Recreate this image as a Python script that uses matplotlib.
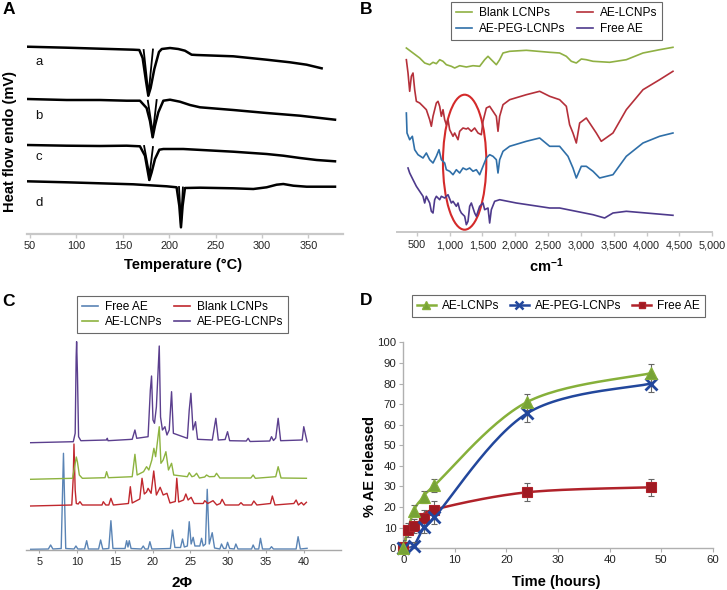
import numpy as np
import matplotlib
matplotlib.use("Agg")
import matplotlib.pyplot as plt
from matplotlib.patches import Ellipse
from matplotlib.lines import Line2D

plt.rcParams['font.family'] = ['Liberation Sans', 'DejaVu Sans']
plt.rcParams['mathtext.fontset'] = 'custom'
plt.rcParams['mathtext.rm'] = 'Liberation Sans'
plt.rcParams['mathtext.bf'] = 'Liberation Sans:bold'

# ---------------- Panel A: DSC ----------------
dsc_a_T = [46.4, 89.5, 125.4, 161.3, 167.8, 171.4, 175.0, 177.5, 180.0, 184.0, 189.0, 192.0, 200.9, 209.8, 217.0, 224.2, 229.6, 269.1, 305.0, 330.2, 348.1, 364.3]
dsc_a_hf = [18.73, 18.63, 18.53, 18.43, 18.4, 17.6, 15.3, 13.83, 14.6, 16.5, 18.2, 18.5, 18.6, 18.5, 18.33, 17.93, 17.9, 17.77, 17.43, 17.17, 16.93, 16.57]
dsc_a_inner_T = [172.5, 176.5, 177.5, 178.8, 182.5]
dsc_a_inner_hf = [18.4, 15.0, 13.83, 15.0, 18.45]
dsc_b_T = [46.4, 89.5, 125.4, 154.2, 168.5, 175.7, 179.3, 182.2, 184.7, 188.3, 193.7, 200.9, 211.6, 222.4, 233.2, 269.1, 305.0, 341.0, 378.7]
dsc_b_hf = [13.5, 13.4, 13.4, 13.33, 13.33, 12.6, 11.3, 9.67, 10.83, 12.17, 13.33, 13.43, 13.23, 12.9, 12.67, 12.4, 12.1, 11.83, 11.43]
dsc_b_inner_T = [177.0, 181.2, 182.2, 183.3, 186.5]
dsc_b_inner_hf = [13.33, 10.8, 9.67, 10.8, 13.4]
dsc_c_T = [46.4, 89.5, 125.4, 154.2, 168.5, 173.9, 178.6, 181.1, 184.7, 189.4, 193.7, 215.2, 269.1, 305.0, 323.0, 341.0, 358.9, 378.7]
dsc_c_hf = [8.9, 8.83, 8.8, 8.83, 8.77, 7.83, 5.4, 6.17, 7.5, 8.43, 8.5, 8.5, 8.23, 8.0, 7.83, 7.6, 7.4, 7.27]
dsc_c_inner_T = [173.0, 177.6, 178.6, 179.6, 182.5]
dsc_c_inner_hf = [8.8, 6.5, 5.4, 6.5, 8.7]
dsc_d_T = [46.4, 89.5, 125.4, 161.3, 197.3, 208.0, 210.9, 212.7, 214.5, 217.0, 233.2, 269.1, 290.7, 305.0, 315.8, 323.0, 333.8, 348.1, 378.7]
dsc_d_hf = [5.27, 5.17, 5.07, 4.97, 4.77, 4.67, 2.83, 0.67, 2.83, 4.6, 4.63, 4.57, 4.5, 4.67, 4.93, 5.0, 4.83, 4.73, 4.73]
dsc_d_inner_T = [210.6, 212.2, 212.7, 213.2, 214.8]
dsc_d_inner_hf = [4.7, 2.0, 0.67, 2.0, 4.65]
dsc_labels = ['a', 'b', 'c', 'd']
dsc_label_hf = [17.17, 11.83, 7.67, 3.1]
dsc_ticks = [50, 100, 150, 200, 250, 300, 350]

# ---------------- Panel B: FTIR ----------------
ftir_blank_wn = [342.8, 444.2, 545.7, 621.8, 697.9, 748.6, 799.3, 850.1, 900.8, 951.5, 1027.6, 1078.3, 1154.4, 1255.9, 1357.4, 1458.8, 1534.9, 1585.6, 1636.4, 1712.5, 1763.2, 1813.9, 1915.4, 2169.0, 2524.2, 2676, 2778, 2854, 2930, 3006, 3082, 3184, 3437, 3691, 3945, 4198, 4401]
ftir_blank_t = [184, 179, 174, 169, 167.3, 169.7, 168.3, 172.3, 170.7, 167.3, 165.7, 164, 166.3, 165, 166.3, 165.7, 172.3, 175.7, 172.3, 167.3, 172.3, 179, 180.7, 181.7, 179.7, 179, 175.7, 170.7, 169, 173, 172.3, 170.7, 169.7, 172.3, 179, 182.3, 184.7]
ftir_ael_wn = [342.8, 368.1, 393.5, 418.9, 444.2, 469.6, 495.0, 545.7, 596.4, 647.1, 697.9, 723.2, 748.6, 799.3, 824.7, 850.1, 875.4, 900.8, 926.2, 951.5, 976.9, 1002.3, 1053.0, 1078.3, 1129.1, 1154.4, 1205.2, 1255.9, 1281.3, 1332.0, 1382.7, 1433.5, 1484.2, 1509.6, 1560.3, 1611.0, 1661.7, 1712.5, 1737.8, 1763.2, 1813.9, 1915.4, 2169.0, 2372.0, 2524.2, 2676, 2778, 2828, 2879, 2930, 2981, 3082, 3234, 3310, 3488, 3691, 3945, 4198, 4401]
ftir_ael_t = [172.3, 159, 140.7, 155.7, 159, 142.3, 130.7, 129, 125.7, 122.3, 112.3, 105.7, 115.7, 129, 130.7, 125.7, 115.7, 122.3, 112.3, 107.3, 112.3, 102.3, 95.7, 99, 92.3, 100.7, 104, 103, 104, 100.7, 104, 99, 97.3, 110.7, 124, 125.7, 120.7, 115.7, 100.7, 115.7, 127.3, 132.3, 137.3, 140.7, 135.7, 132.3, 125.7, 107.3, 99, 89, 109, 114, 99, 90.7, 99, 122.3, 142.3, 152.3, 160.7]
ftir_peg_wn = [342.8, 352.9, 393.5, 434.1, 469.6, 520.3, 596.4, 647.1, 697.9, 748.6, 799.3, 839.9, 875.4, 926.2, 951.5, 1002.3, 1053.0, 1103.7, 1154.4, 1205.2, 1255.9, 1306.6, 1357.4, 1408.1, 1458.8, 1509.6, 1560.3, 1611.0, 1661.7, 1712.5, 1737.8, 1763.2, 1813.9, 1915.4, 2169.0, 2372.0, 2524.2, 2676, 2803, 2879, 2930, 3006, 3082, 3184, 3285, 3488, 3691, 3945, 4198, 4401]
ftir_peg_t = [119, 99, 92.3, 95.7, 82.3, 77.3, 74, 79, 72.3, 69, 75.7, 82.3, 72.3, 69, 62.3, 60.7, 57.3, 62.3, 59, 64, 62.3, 64, 60.7, 62.3, 57.3, 65.7, 74, 77.3, 75.7, 72.3, 59, 72.3, 80.7, 85.7, 90.7, 94, 85.7, 85.7, 75.7, 64, 54, 65.7, 65.7, 60.7, 54, 57.3, 75.7, 89, 95.7, 99]
ftir_free_wn = [368.1, 393.5, 444.2, 495.0, 545.7, 596.4, 621.8, 647.1, 697.9, 723.2, 748.6, 773.9, 799.3, 850.1, 875.4, 926.2, 976.9, 1027.6, 1053.0, 1103.7, 1129.1, 1154.4, 1179.8, 1230.5, 1255.9, 1281.3, 1306.6, 1332.0, 1382.7, 1408.1, 1458.8, 1509.6, 1534.9, 1585.6, 1611.0, 1636.4, 1687.1, 1763.2, 2016.9, 2524.2, 2676, 3184, 3361, 3488, 3691, 4401]
ftir_free_t = [64, 59, 52.3, 45.7, 40.7, 35.7, 29, 35.7, 29, 20.7, 19, 32.3, 35.7, 32.3, 35.7, 34, 37.3, 29, 30.7, 25.7, 29, 22.3, 19, 15.7, 7.3, 10.7, 25.7, 29, 19, 15.7, 25.7, 29, 22.3, 24, 9, 22.3, 30.7, 32.3, 29, 24, 24, 17.3, 14, 19, 20.7, 16.7]
ftir_ticks = [500, 1000, 1500, 2000, 2500, 3000, 3500, 4000, 4500, 5000]
ellipse_center = (1230, 69.8)
ellipse_size = (660, 135)

# ---------------- Panel C: XRD ----------------
xrd_free_x = [3.86, 6.2, 6.5, 6.8, 7.9, 8.2, 8.5, 9.6, 9.85, 10.1, 11.0, 11.27, 11.5, 12.85, 13.12, 13.4, 14.2, 14.48, 14.75, 16.35, 16.56, 16.74, 16.91, 17.15, 18.5, 18.76, 19.0, 19.4, 19.64, 19.9, 22.35, 22.64, 22.95, 23.7, 23.96, 24.2, 24.6, 24.85, 25.1, 25.37, 25.6, 26.25, 26.48, 26.7, 27.0, 27.23, 27.5, 27.89, 28.2, 28.9, 29.12, 29.4, 29.7, 29.92, 30.2, 30.8, 31.02, 31.3, 33.1, 33.31, 33.55, 34.05, 34.28, 34.55, 35.5, 35.74, 36.0, 39.0, 39.26, 39.55, 40.45]
xrd_free_y = [0.7, 1.0, 5.0, 1.0, 1.5, 96.7, 1.5, 1.0, 4.0, 1.0, 1.0, 9.3, 1.0, 1.0, 10.0, 1.0, 1.5, 29.3, 1.5, 1.5, 9.3, 3.0, 9.3, 1.5, 1.0, 4.0, 1.0, 1.0, 8.3, 1.0, 1.5, 20.0, 2.5, 2.5, 11.0, 3.0, 4.0, 28.3, 6.0, 12.7, 4.0, 4.0, 11.7, 4.0, 6.0, 60.7, 6.0, 17.3, 2.0, 1.0, 6.0, 1.5, 1.5, 7.7, 1.5, 1.0, 6.0, 1.0, 1.0, 5.0, 1.0, 1.0, 11.7, 1.0, 1.0, 3.3, 1.0, 1.0, 13.3, 1.0, 1.7]
xrd_blank_x = [3.86, 9.3, 9.5, 9.59, 9.75, 9.9, 10.15, 10.38, 10.7, 13.3, 13.47, 13.8, 14.2, 14.48, 14.8, 16.8, 17.05, 17.3, 18.3, 18.6, 18.9, 19.2, 19.4, 19.8, 20.15, 20.5, 21.0, 21.4, 21.9, 22.3, 23.0, 23.2, 23.45, 24.1, 24.4, 24.7, 25.1, 25.5, 26.7, 26.9, 27.3, 28.0, 28.5, 28.95, 29.2, 29.6, 31.4, 31.7, 32.0, 33.1, 33.4, 33.8, 35.6, 35.85, 36.2, 38.7, 39.0, 39.3, 39.7, 40.0, 40.36]
xrd_blank_y = [44.0, 45.0, 73.3, 106.0, 60.0, 46.5, 46.0, 48.3, 45.0, 45.0, 48.3, 45.0, 45.0, 51.7, 45.0, 46.5, 63.3, 47.0, 51.0, 71.7, 56.0, 58.0, 61.7, 56.7, 79.0, 55.0, 62.7, 55.0, 56.7, 47.0, 48.5, 71.7, 48.0, 50.0, 56.0, 50.0, 52.7, 46.5, 46.5, 49.3, 46.5, 49.3, 45.0, 46.5, 50.7, 45.0, 45.0, 47.3, 45.0, 45.0, 49.0, 45.0, 46.5, 54.0, 45.0, 46.5, 50.0, 45.0, 47.5, 45.0, 47.7]
xrd_ael_x = [3.86, 9.4, 9.6, 9.9, 10.05, 10.3, 10.7, 13.7, 13.91, 14.15, 17.3, 17.66, 17.95, 18.8, 19.2, 19.5, 19.9, 20.17, 20.4, 20.88, 21.1, 21.4, 21.76, 22.1, 22.51, 22.8, 24.6, 24.85, 25.2, 25.5, 25.82, 26.2, 26.9, 27.14, 27.5, 28.2, 28.46, 28.9, 33.0, 33.31, 33.6, 36.3, 36.62, 37.0, 40.36]
xrd_ael_y = [70.7, 71.7, 80.0, 93.0, 88.0, 75.0, 71.7, 72.3, 78.3, 72.3, 73.3, 95.7, 75.0, 78.3, 83.3, 80.0, 90.0, 101.7, 93.3, 123.3, 86.7, 90.0, 98.3, 80.0, 86.7, 75.0, 73.3, 77.3, 73.3, 74.0, 76.7, 72.0, 73.0, 75.0, 73.3, 73.5, 76.7, 72.0, 72.0, 75.0, 71.7, 73.3, 83.3, 72.0, 71.7]
xrd_peg_x = [3.86, 9.5, 9.75, 9.88, 9.94, 10.05, 10.2, 10.5, 13.9, 14.0, 14.1, 17.3, 17.66, 17.9, 19.4, 19.7, 19.86, 20.05, 20.25, 20.5, 20.88, 21.05, 21.3, 21.63, 21.9, 22.2, 22.51, 22.75, 24.6, 24.85, 25.07, 25.35, 25.68, 25.95, 27.9, 28.37, 28.7, 29.6, 29.92, 30.2, 32.4, 32.65, 32.9, 35.5, 35.74, 36.0, 36.3, 36.62, 36.95, 39.8, 40.01, 40.3, 40.45]
xrd_peg_y = [107.3, 108.3, 116.7, 193.0, 208.3, 176.7, 113.3, 109.3, 110.0, 111.7, 109.3, 110.7, 120.0, 111.7, 113.3, 160.0, 174.0, 130.0, 126.7, 143.0, 204.0, 133.0, 120.0, 123.3, 115.0, 120.0, 158.3, 116.7, 111.7, 140.0, 156.7, 120.0, 128.3, 110.7, 110.0, 131.7, 110.0, 110.5, 118.3, 109.3, 109.0, 111.7, 108.5, 109.0, 113.3, 109.5, 112.0, 131.7, 109.3, 110.0, 123.3, 113.3, 108.3]
xrd_ticks = [5, 10, 15, 20, 25, 30, 35, 40]

# ---------------- Panel D: release ----------------
t_ael = [0, 2, 4, 6, 24, 48]
rel_ael = [0, 18, 25, 30.5, 71, 85]
err_ael = [2, 3, 3, 3, 4, 4.5]
t_peg = [0, 2, 4, 6, 24, 48]
rel_peg = [0, 1.3, 10.2, 15, 65.5, 80]
err_peg = [2, 2, 3, 3, 4, 4]
t_free = [0, 1, 2, 4, 6, 24, 48]
rel_free = [0.8, 9, 10.7, 14.7, 18.8, 27.2, 29.6]
err_free = [3, 3.5, 3.5, 4, 4.3, 4.3, 4.2]

W, H = 727, 590
fig = plt.figure(figsize=(W / 100, H / 100), dpi=100)


def rect(l, t, r, b):
    return [l / W, 1 - b / H, (r - l) / W, (b - t) / H]


def fx(px):
    return px / W


def fy(py):
    return 1 - py / H


TICKC = '#222222'
TFS = 7.8
LFS = 10.5

# ---- A
axA = fig.add_axes(rect(27.3, 34, 342.7, 234))
for T, hf in [(dsc_a_T, dsc_a_hf), (dsc_b_T, dsc_b_hf), (dsc_c_T, dsc_c_hf), (dsc_d_T, dsc_d_hf)]:
    axA.plot(T, hf, color='black', lw=1.8, solid_joinstyle='round')
for T, hf in [(dsc_a_inner_T, dsc_a_inner_hf), (dsc_b_inner_T, dsc_b_inner_hf),
              (dsc_c_inner_T, dsc_c_inner_hf), (dsc_d_inner_T, dsc_d_inner_hf)]:
    axA.plot(T, hf, color='black', lw=1.3, solid_joinstyle='round')
for lab, yv in zip(dsc_labels, dsc_label_hf):
    axA.text(60, yv, lab, fontsize=9.5, ha='center', va='center', color='#111111')
axA.set_xlim(47.1, 387)
axA.set_ylim(0, 20)
axA.set_xticks(dsc_ticks)
axA.set_yticks([])
for s in ['left', 'right', 'top']:
    axA.spines[s].set_visible(False)
axA.spines['bottom'].set_color('#c8c8c8')
axA.spines['bottom'].set_linewidth(1.6)
axA.tick_params(axis='x', colors='#c8c8c8', labelcolor=TICKC, labelsize=TFS, length=3, width=1, pad=2)

# ---- B
c_green, c_red, c_blue, c_purple = '#8fb043', '#b5303a', '#2f6fa8', '#4e3a8c'
axB = fig.add_axes(rect(397.3, 40, 712.3, 232))
axB.plot(ftir_blank_wn, ftir_blank_t, color=c_green, lw=1.2)
axB.plot(ftir_ael_wn, ftir_ael_t, color=c_red, lw=1.2)
axB.plot(ftir_peg_wn, ftir_peg_t, color=c_blue, lw=1.2)
axB.plot(ftir_free_wn, ftir_free_t, color=c_purple, lw=1.2)
axB.add_patch(Ellipse(ellipse_center, ellipse_size[0], ellipse_size[1], fill=False, edgecolor='#d42a2a', lw=1.5))
axB.set_xlim(205, 5000)
axB.set_ylim(0, 192)
axB.set_xticks(ftir_ticks)
axB.set_xticklabels([f"{v:,}" for v in ftir_ticks])
axB.set_yticks([])
for s in ['left', 'right', 'top']:
    axB.spines[s].set_visible(False)
axB.spines['bottom'].set_color('#c8c8c8')
axB.spines['bottom'].set_linewidth(1.4)
axB.tick_params(axis='x', colors='#c8c8c8', labelcolor=TICKC, labelsize=TFS, length=3, width=1, pad=3)
hB = [Line2D([], [], color=c_green, lw=1.2), Line2D([], [], color=c_blue, lw=1.2),
      Line2D([], [], color=c_red, lw=1.2), Line2D([], [], color=c_purple, lw=1.2)]
legB = fig.legend(hB, ['Blank LCNPs', 'AE-PEG-LCNPs', 'AE-LCNPs', 'Free AE'], ncol=2, loc='center',
                  bbox_to_anchor=(fx(556.7), fy(21)), fontsize=8.6, frameon=True, fancybox=False,
                  handlelength=1.3, handletextpad=0.6, columnspacing=1.0, labelspacing=0.3,
                  borderpad=0.4, edgecolor='#444444')
legB.get_frame().set_linewidth(0.8)

# ---- C
cC_free, cC_blank, cC_ael, cC_peg = '#5a84b5', '#c0282e', '#8db33f', '#5b3f8e'
axC = fig.add_axes(rect(26, 338, 340.7, 550))
axC.plot(xrd_free_x, xrd_free_y, color=cC_free, lw=1.0)
axC.plot(xrd_blank_x, xrd_blank_y, color=cC_blank, lw=1.0)
axC.plot(xrd_ael_x, xrd_ael_y, color=cC_ael, lw=1.0)
axC.plot(xrd_peg_x, xrd_peg_y, color=cC_peg, lw=1.0)
axC.set_xlim(3.24, 44.9)
axC.set_ylim(0, 212)
axC.set_xticks(xrd_ticks)
axC.set_yticks([])
for s in ['left', 'right', 'top']:
    axC.spines[s].set_visible(False)
axC.spines['bottom'].set_color('#a8a8a8')
axC.spines['bottom'].set_linewidth(1.0)
axC.tick_params(axis='x', colors='#a8a8a8', labelcolor=TICKC, labelsize=TFS, length=2, width=0.8, pad=3)
hC = [Line2D([], [], color=cC_free, lw=1.2), Line2D([], [], color=cC_ael, lw=1.2),
      Line2D([], [], color=cC_blank, lw=1.2), Line2D([], [], color=cC_peg, lw=1.2)]
legC = fig.legend(hC, ['Free AE', 'AE-LCNPs', 'Blank LCNPs', 'AE-PEG-LCNPs'], ncol=2, loc='center',
                  bbox_to_anchor=(fx(182.8), fy(314.7)), fontsize=8.6, frameon=True, fancybox=False,
                  handlelength=1.3, handletextpad=0.6, columnspacing=1.0, labelspacing=0.3,
                  borderpad=0.4, edgecolor='#444444')
legC.get_frame().set_linewidth(0.8)


# ---- D
def smooth(x, y, n=30):
    P = np.column_stack([x, y]).astype(float)
    P = np.vstack([P[0], P, P[-1]])
    segs = []
    tt = np.linspace(0, 1, n)[:, None]
    for i in range(1, len(P) - 2):
        p0, p1, p2, p3 = P[i - 1], P[i], P[i + 1], P[i + 2]
        seg = 0.5 * ((2 * p1) + (-p0 + p2) * tt + (2 * p0 - 5 * p1 + 4 * p2 - p3) * tt ** 2
                     + (-p0 + 3 * p1 - 3 * p2 + p3) * tt ** 3)
        segs.append(seg)
    return np.vstack(segs)


axD = fig.add_axes(rect(403.3, 342.3, 712.7, 548.3))
cD_g, cD_b, cD_r = '#86b03a', '#22479c', '#b0222a'
for t, v, e, col, mk, ms, mfc in [(t_free, rel_free, err_free, cD_r, 's', 7, '#a01a22'),
                                  (t_peg, rel_peg, err_peg, cD_b, 'x', 8, cD_b),
                                  (t_ael, rel_ael, err_ael, cD_g, '^', 8, '#77a336')]:
    sm = smooth(t, v)
    axD.plot(sm[:, 0], sm[:, 1], color=col, lw=1.8, zorder=2)
    axD.errorbar(t, v, yerr=e, fmt='none', ecolor='#666666', elinewidth=0.8, capsize=2, capthick=0.8, zorder=3)
    axD.plot(t, v, ls='none', marker=mk, ms=ms, mfc=mfc, mec=col, mew=2 if mk == 'x' else 0.8, zorder=4,
             clip_on=False)
axD.set_xlim(0, 60)
axD.set_ylim(0, 100)
axD.set_xticks(range(0, 61, 10))
axD.set_yticks(range(0, 101, 10))
for s in ['right', 'top']:
    axD.spines[s].set_visible(False)
for s in ['left', 'bottom']:
    axD.spines[s].set_color('#b0b0b0')
    axD.spines[s].set_linewidth(1.0)
axD.tick_params(colors='#b0b0b0', labelcolor=TICKC, labelsize=TFS + 0.4, length=3, width=0.8, pad=2)
hD = [Line2D([], [], color=cD_g, lw=1.8, marker='^', ms=6, mfc='#77a336', mec=cD_g),
      Line2D([], [], color=cD_b, lw=1.8, marker='x', ms=6, mew=1.8, mec=cD_b),
      Line2D([], [], color=cD_r, lw=1.8, marker='s', ms=5, mfc='#a01a22', mec=cD_r)]
legD = fig.legend(hD, ['AE-LCNPs', 'AE-PEG-LCNPs', 'Free AE'], ncol=3, loc='center',
                  bbox_to_anchor=(fx(558.3), fy(306)), fontsize=8.6, frameon=True, fancybox=False,
                  handlelength=1.6, handletextpad=0.5, columnspacing=0.9, borderpad=0.4,
                  edgecolor='#444444')
legD.get_frame().set_linewidth(0.8)

# ---- labels
fig.text(fx(183), fy(265), 'Temperature (°C)', fontsize=LFS, fontweight='bold', ha='center', va='center')
fig.text(fx(10.5), fy(141.7), 'Heat flow endo (mV)', fontsize=LFS, fontweight='bold', rotation=90,
         ha='center', va='center')
fig.text(fx(546.7), fy(266), r'$\mathbf{cm^{-1}}$', fontsize=LFS, ha='center', va='center')
fig.text(fx(181.7), fy(583), '2Φ', fontsize=LFS + 0.5, fontweight='bold', ha='center', va='center')
fig.text(fx(556.7), fy(582), 'Time (hours)', fontsize=LFS, fontweight='bold', ha='center', va='center')
fig.text(fx(370), fy(466.7), '% AE released', fontsize=LFS, fontweight='bold', rotation=90,
         ha='center', va='center')
for lab, x, y in [('A', 9, 9.2), ('B', 366.5, 9), ('C', 8.3, 301.7), ('D', 366, 301)]:
    fig.text(fx(x), fy(y), lab, fontsize=12.5, fontweight='bold', ha='center', va='center')

fig.savefig('out.png', dpi=100)
